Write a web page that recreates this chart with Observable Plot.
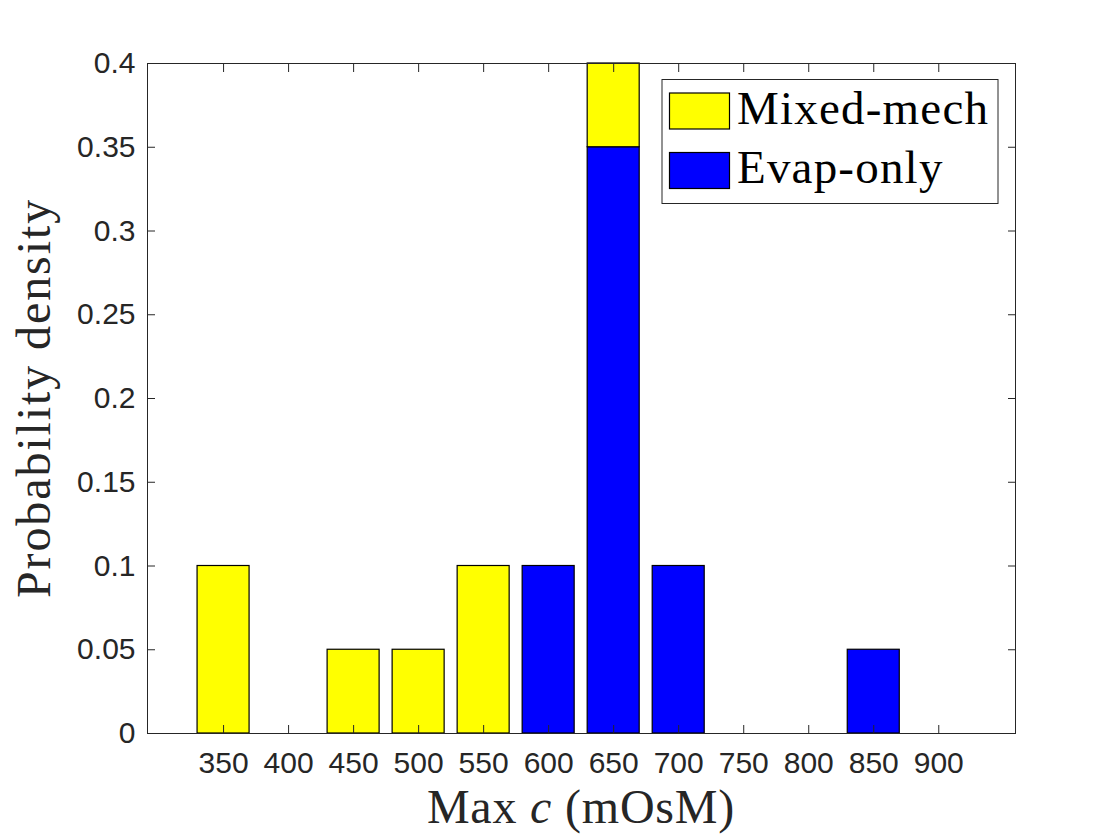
<!DOCTYPE html>
<html><head><meta charset="utf-8">
<script src="https://cdn.jsdelivr.net/npm/d3@7"></script>
<script src="https://cdn.jsdelivr.net/npm/@observablehq/plot@0.6"></script>
<style>
html,body{margin:0;padding:0;background:#fff;overflow:hidden;}
#chart svg{display:block;}
</style></head><body><div id="chart"></div>
<script>
const bins = [350,400,450,500,550,600,650,700,750,800,850,900];
const mixedMech = [0.1,0,0.05,0.05,0.1,0,0.05,0,0,0,0,0];
const evapOnly = [0,0,0,0,0,0.1,0.35,0.1,0,0,0.05,0];
const yTicks = [0,0.05,0.1,0.15,0.2,0.25,0.3,0.35,0.4];
const seriesNames = ["Mixed-mech","Evap-only"];
const seriesColors = ["#ffff00","#0000ff"];
const xLabelParts = ["Max ", "c", " (mOsM)"];
const yLabel = "Probability density";
const barWidth = 40;

// stacked table built from the arrays (Evap-only at the bottom)
const rects = [];
bins.forEach((b,i)=>{
  if (evapOnly[i] > 0) rects.push({x:b, y1:0, y2:evapOnly[i], s:"Evap-only"});
  if (mixedMech[i] > 0) rects.push({x:b, y1:evapOnly[i], y2:evapOnly[i]+mixedMech[i], s:"Mixed-mech"});
});

const W=1120, H=840, mL=147, mR=105, mT=63, mB=107;
const ink = "#262626";
const plot = Plot.plot({
  width:W, height:H, marginLeft:mL, marginRight:mR, marginTop:mT, marginBottom:mB,
  x:{domain:[291.5,959]},
  y:{domain:[0,0.4]},
  color:{domain:seriesNames, range:seriesColors},
  style:{fontFamily:"'Liberation Sans', Arial, sans-serif", fontSize:"30px", color:ink, background:"#fff"},
  marks:[
    Plot.rect(rects,{x1:d=>d.x-barWidth/2, x2:d=>d.x+barWidth/2, y1:"y1", y2:"y2", fill:"s", stroke:"#000", strokeWidth:1.2}),
    Plot.axisX({ticks:bins, tickSize:-8, tickFormat:()=>"", label:null, stroke:ink}),
    Plot.axisX({anchor:"top", ticks:bins, tickSize:-8, tickFormat:()=>"", label:null, stroke:ink}),
    Plot.axisX({ticks:bins, tickSize:0, tickPadding:18, fontSize:30, label:null, fill:ink}),
    Plot.axisY({ticks:yTicks, tickSize:-8, tickFormat:()=>"", label:null, stroke:ink}),
    Plot.axisY({anchor:"right", ticks:yTicks, tickSize:-8, tickFormat:()=>"", label:null, stroke:ink}),
    Plot.axisY({ticks:yTicks, tickSize:0, tickPadding:12, fontSize:30, label:null, fill:ink, tickFormat:d=>String(+d.toFixed(2))}),
    Plot.frame({stroke:ink, strokeWidth:1})
  ]
});
document.getElementById("chart").appendChild(plot);

const svg = d3.select(plot);
const serif = "'Liberation Serif', 'Times New Roman', serif";
// x label
const xl = svg.append("text")
  .attr("x",(mL+W-mR)/2).attr("y",823)
  .attr("text-anchor","middle").attr("fill",ink)
  .style("font-family",serif).style("font-size","48px").style("letter-spacing","0.8px");
xLabelParts.forEach((t,i)=>{
  xl.append("tspan").attr("font-style", i===1 ? "italic":"normal").text(t);
});
// y label
svg.append("text")
  .attr("transform",`translate(50,${(mT+H-mB)/2}) rotate(-90)`)
  .attr("text-anchor","middle").attr("fill",ink)
  .style("font-family",serif).style("font-size","48px").style("letter-spacing","1.9px")
  .text(yLabel);
// legend
const lg = svg.append("g");
lg.append("rect").attr("x",662).attr("y",79.5).attr("width",336).attr("height",124)
  .attr("fill","#fff").attr("stroke",ink).attr("stroke-width",1);
seriesNames.forEach((name,i)=>{
  const y0 = 93 + i*59.5;
  lg.append("rect").attr("x",669.5).attr("y",y0).attr("width",60).attr("height",36)
    .attr("fill",seriesColors[i]).attr("stroke","#000").attr("stroke-width",1.2);
  lg.append("text").attr("x",737).attr("y",y0+30.5).attr("fill","#000")
    .attr("text-anchor","start")
    .style("font-family",serif).style("font-size","47px").style("letter-spacing","1.2px")
    .text(name);
});
</script></body></html>
